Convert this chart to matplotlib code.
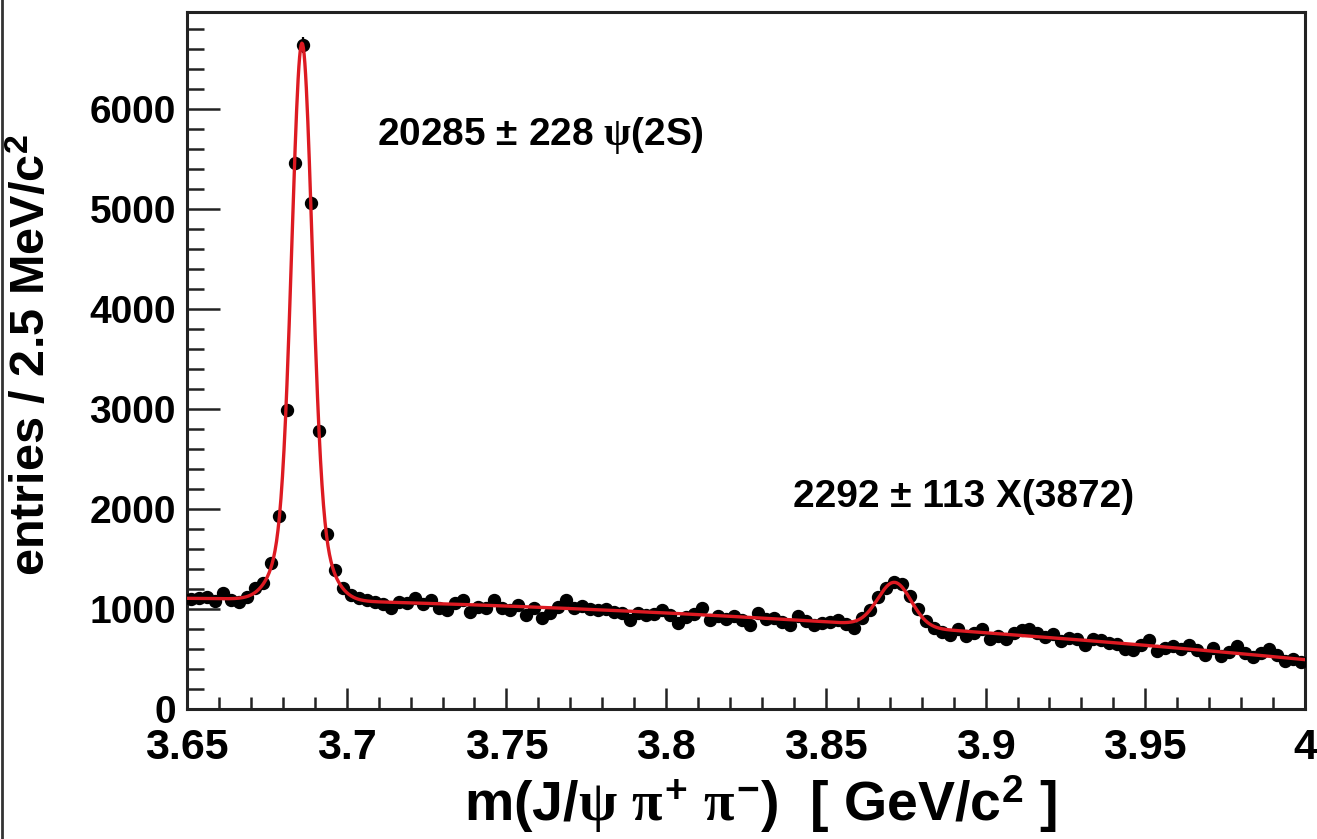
import numpy as np
import matplotlib
matplotlib.use("Agg")
import matplotlib.pyplot as plt
from matplotlib.ticker import MultipleLocator, FixedLocator, FixedFormatter
from matplotlib.lines import Line2D

# ---- histogram: m(J/psi pi+ pi-), 2.5 MeV bins from 3.65 to 4.00 GeV ----
mass_low = 3.65
mass_high = 4.00
bin_width = 0.0025

counts = [
    1100, 1110, 1120, 1080, 1160, 1090, 1070, 1120,
    1210, 1260, 1460, 1930, 2990, 5460, 6640, 5060, 2780, 1750, 1390, 1210,
    1140, 1110, 1090, 1070, 1050, 1010, 1070, 1060, 1110, 1050,
    1090, 1010, 990, 1060, 1090, 970, 1020, 1010, 1090, 1010,
    990, 1040, 940, 1010, 910, 960, 1020, 1090, 1010, 1030,
    1000, 990, 1000, 970, 960, 890, 960, 940, 950, 990,
    940, 860, 920, 950, 1010, 890, 930, 900, 930, 890,
    840, 960, 900, 910, 870, 840, 930, 880, 840, 860,
    870, 890, 850, 810, 910, 990, 1120, 1210, 1270, 1250,
    1130, 1000, 880, 810, 770, 740, 800, 730, 760, 800,
    700, 730, 700, 760, 790, 800, 760, 720, 750, 680,
    710, 700, 640, 700, 690, 660, 650, 600, 590, 640,
    690, 580, 610, 630, 600, 640, 590, 540, 610, 530,
    570, 630, 560, 520, 560, 600, 540, 480, 500, 470,
]

# ---- fit model: two signal peaks on a smooth background ----
psi_yield = 20285
psi_yield_err = 228
psi_mass = 3.6860
psi_sigma_core = 0.0031
psi_sigma_wide = 0.0065
psi_core_frac = 0.72

x_yield = 2292
x_yield_err = 113
x_mass = 3.8715
x_sigma = 0.0052

bkg_mass = [3.65, 3.70, 3.75, 3.80, 3.85, 3.90, 3.95, 4.00]
bkg_level = [1105, 1080, 1035, 955, 870, 760, 645, 490]

x_tick_values = [3.65, 3.70, 3.75, 3.80, 3.85, 3.90, 3.95, 4.00]
x_tick_labels = ["3.65", "3.7", "3.75", "3.8", "3.85", "3.9", "3.95", "4"]
y_tick_values = [0, 1000, 2000, 3000, 4000, 5000, 6000]
y_tick_labels = ["0", "1000", "2000", "3000", "4000", "5000", "6000"]


def gauss(x, mu, sigma):
    return np.exp(-0.5 * ((x - mu) / sigma) ** 2) / (sigma * np.sqrt(2 * np.pi))


bkg_coef = np.polyfit(bkg_mass, bkg_level, 3)


def fit_model(x):
    psi = psi_core_frac * gauss(x, psi_mass, psi_sigma_core) + \
        (1 - psi_core_frac) * gauss(x, psi_mass, psi_sigma_wide)
    sig_x = gauss(x, x_mass, x_sigma)
    return bin_width * (psi_yield * psi + x_yield * sig_x) + np.polyval(bkg_coef, x)


# ---- styling ----
plt.rcParams["font.family"] = ["Liberation Sans", "DejaVu Sans"]
plt.rcParams["font.weight"] = "bold"
plt.rcParams["mathtext.fontset"] = "custom"
plt.rcParams["mathtext.rm"] = "Liberation Sans:bold"
plt.rcParams["mathtext.it"] = "Liberation Serif"
plt.rcParams["mathtext.bf"] = "Liberation Sans:bold"

W, H = 1317, 839
fig = plt.figure(figsize=(W / 100, H / 100), dpi=100)
ax = fig.add_axes([187 / W, 1 - 709 / H, (1305 - 187) / W, (709 - 12) / H])

counts_arr = np.array(counts, dtype=float)
edges = mass_low + bin_width * np.arange(len(counts_arr) + 1)
centers = 0.5 * (edges[:-1] + edges[1:])

ax.errorbar(centers, counts_arr, yerr=np.sqrt(counts_arr), fmt="o", color="black",
            ms=8.6, elinewidth=1.6, capsize=0, zorder=3)

xfine = np.linspace(mass_low, mass_high, 1500)
ax.plot(xfine, fit_model(xfine), color="#dd1a22", lw=2.4, zorder=4)

ax.set_xlim(mass_low, mass_high)
ax.set_ylim(0, 6970)

ax.xaxis.set_major_locator(FixedLocator(x_tick_values))
ax.xaxis.set_major_formatter(FixedFormatter(x_tick_labels))
ax.xaxis.set_minor_locator(MultipleLocator(0.01))
ax.yaxis.set_major_locator(FixedLocator(y_tick_values))
ax.yaxis.set_major_formatter(FixedFormatter(y_tick_labels))
ax.yaxis.set_minor_locator(MultipleLocator(200))

ax.tick_params(axis="both", which="both", direction="in", top=False, right=False,
               color="#222222", width=1.8)
ax.tick_params(axis="y", which="major", length=23.5, labelsize=28, pad=8)
ax.tick_params(axis="y", which="minor", length=12)
ax.tick_params(axis="x", which="major", length=15, labelsize=31, pad=14)
ax.tick_params(axis="x", which="minor", length=8.5)
for lbl in ax.get_xticklabels() + ax.get_yticklabels():
    lbl.set_fontweight("bold")

for sp in ax.spines.values():
    sp.set_linewidth(2.2)
    sp.set_color("#222222")

ax.text(3.7095, 5740, "20285 \u00b1 228 $\\psi$(2S)", fontsize=28, fontweight="bold",
        ha="left", va="center")
ax.text(3.8397, 2120, "2292 \u00b1 113 X(3872)", fontsize=28, fontweight="bold",
        ha="left", va="center")

fig.text(760 / W, 1 - 804 / H,
         "m(J/$\\psi$ $\\pi^{+}$ $\\pi^{-}$)  [ GeV/c$^{2}$ ]",
         fontsize=40, fontweight="bold", ha="center", va="center")
fig.text(33 / W, 1 - 355 / H, "entries / 2.5 MeV/c$^{2}$", fontsize=35,
         fontweight="bold", rotation=90, ha="center", va="center")

fig.add_artist(Line2D([1.5 / W, 1.5 / W], [0, 1], color="#333333", lw=2.0,
                      transform=fig.transFigure))

fig.savefig("out.png", dpi=100)
